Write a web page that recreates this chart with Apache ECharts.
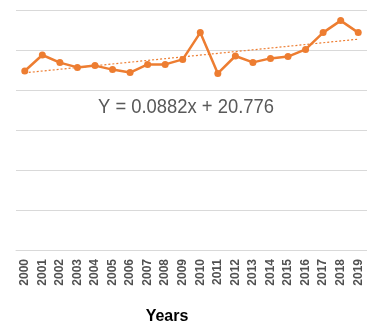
<!DOCTYPE html>
<html>
<head>
<meta charset="utf-8">
<script src="https://cdn.jsdelivr.net/npm/echarts@6/dist/echarts.min.js"></script>
<style>
html,body{margin:0;padding:0;background:#fff;}
#chart{width:367px;height:326px;}
</style>
</head>
<body>
<div id="chart"></div>
<script>
const years = ['2000','2001','2002','2003','2004','2005','2006','2007','2008','2009','2010','2011','2012','2013','2014','2015','2016','2017','2018','2019'];
const values = [20.95,21.75,21.37,21.13,21.22,21.02,20.87,21.28,21.28,21.53,22.87,20.83,21.70,21.38,21.58,21.67,22.03,22.87,23.47,22.87];
const trendStart = 20.86;
const trendEnd = 22.54;
const equationText = 'Y = 0.0882x + 20.776';
const xAxisTitle = 'Years';
const yMin = 12, yMax = 24, yStep = 2;

const trendData = years.map((y, i) => i === 0 ? trendStart : (i === years.length - 1 ? trendEnd : null));

const chart = echarts.init(document.getElementById('chart'), null, {renderer: 'canvas'});
chart.setOption({
  animation: false,
  grid: {left: 16, top: 10, width: 355.5, height: 240},
  xAxis: {
    type: 'category',
    data: years,
    boundaryGap: true,
    axisLine: {lineStyle: {color: '#d9d9d9', width: 1}},
    axisTick: {show: false},
    axisLabel: {
      rotate: 90, interval: 0, margin: 9,
      fontFamily: 'Liberation Sans, sans-serif',
      fontWeight: 'bold', fontSize: 12, color: '#505050'
    }
  },
  yAxis: {
    type: 'value', min: yMin, max: yMax, interval: yStep,
    axisLabel: {show: false},
    axisLine: {show: false},
    axisTick: {show: false},
    splitLine: {lineStyle: {color: '#d9d9d9', width: 1}}
  },
  series: [
    {
      type: 'line', data: trendData, connectNulls: true, symbol: 'none',
      lineStyle: {color: '#ED7D31', width: 1.2, type: [2, 2]},
      z: 1
    },
    {
      type: 'line', data: values, symbol: 'circle', symbolSize: 7,
      itemStyle: {color: '#ED7D31'},
      lineStyle: {color: '#ED7D31', width: 2.5},
      z: 2
    }
  ],
  graphic: [
    {
      type: 'text', x: 186, y: 97, scaleX: 0.92,
      style: {
        text: equationText,
        font: '20px "Liberation Sans", sans-serif',
        fill: '#595959', align: 'center', verticalAlign: 'top'
      }
    },
    {
      type: 'text', x: 167, y: 309,
      style: {
        text: xAxisTitle,
        font: 'bold 16px "Liberation Sans", sans-serif',
        fill: '#000', align: 'center', verticalAlign: 'top'
      }
    }
  ]
});
</script>
</body>
</html>
